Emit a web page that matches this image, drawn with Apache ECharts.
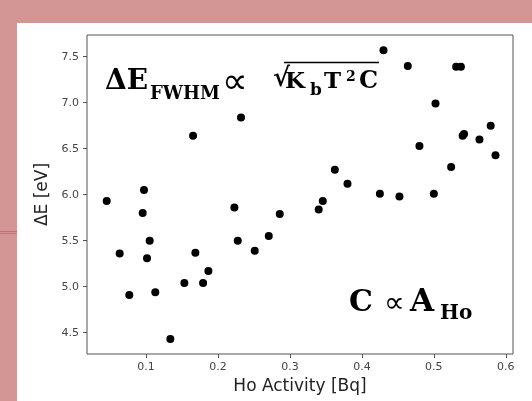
<!DOCTYPE html>
<html>
<head>
<meta charset="utf-8">
<script src="https://cdn.jsdelivr.net/npm/echarts@6/dist/echarts.min.js"></script>
<style>
  html, body { margin: 0; padding: 0; }
  body { width: 532px; height: 401px; background: #d49595; position: relative; overflow: hidden; }
  .panel { position: absolute; left: 17px; top: 23px; width: 515px; height: 378px; background: #fff; }
  .rule { position: absolute; left: 0; width: 17px; height: 1px; background: #c2707a; }
  #chart { position: absolute; left: 0; top: 0; width: 532px; height: 401px; }
</style>
</head>
<body>
<div class="panel"></div>
<div class="rule" style="top:231px"></div>
<div class="rule" style="top:233px"></div>
<div id="chart"></div>
<script>
const activity = [0.0454, 0.0634, 0.0768, 0.0954, 0.0972, 0.1014, 0.1051, 0.1129, 0.1338, 0.1533,
  0.1654, 0.1686, 0.1793, 0.1867, 0.2228, 0.2275, 0.232, 0.2511, 0.2706, 0.2859,
  0.340, 0.3457, 0.3624, 0.380, 0.425, 0.430, 0.4522, 0.4638, 0.480, 0.500,
  0.5023, 0.524, 0.531, 0.5376, 0.540, 0.542, 0.5634, 0.579, 0.5857];
const deltaE = [5.93, 5.36, 4.91, 5.80, 6.05, 5.31, 5.50, 4.94, 4.43, 5.04,
  6.64, 5.37, 5.04, 5.17, 5.86, 5.50, 6.84, 5.39, 5.55, 5.79,
  5.84, 5.93, 6.27, 6.12, 6.01, 7.57, 5.98, 7.40, 6.53, 6.01,
  6.99, 6.30, 7.39, 7.39, 6.64, 6.66, 6.60, 6.75, 6.43];

const xTicks = [0.1, 0.2, 0.3, 0.4, 0.5, 0.6];
const yTicks = [4.5, 5.0, 5.5, 6.0, 6.5, 7.0, 7.5];

const serif = '"DejaVu Serif", serif';
const sans = '"DejaVu Sans", sans-serif';

function txt(x, y, text, size, font) {
  return {
    type: 'text', x: x, y: y, z: 100,
    style: { text: text, font: font || ('bold ' + size + 'px ' + serif), fill: '#000', verticalAlign: 'middle', align: 'left' }
  };
}

const chart = echarts.init(document.getElementById('chart'));
chart.setOption({
  animation: false,
  grid: { left: 87, top: 35, right: 19, bottom: 47, show: true, borderColor: '#555', borderWidth: 1, backgroundColor: 'transparent' },
  xAxis: {
    type: 'value', min: 0.018, max: 0.61,
    name: 'Ho Activity [Bq]', nameLocation: 'middle', nameGap: 23,
    nameTextStyle: { fontFamily: sans, fontSize: 17, color: '#222' },
    splitLine: { show: false },
    axisLine: { show: false },
    axisTick: { show: true, length: 4, lineStyle: { color: '#555' }, customValues: xTicks },
    axisLabel: { fontFamily: sans, fontSize: 11, color: '#444', margin: 8, customValues: xTicks,
      formatter: v => v.toFixed(1) }
  },
  yAxis: {
    type: 'value', min: 4.268, max: 7.736,
    name: 'ΔE [eV]', nameLocation: 'middle', nameGap: 35,
    nameTextStyle: { fontFamily: sans, fontSize: 17, color: '#222' },
    splitLine: { show: false },
    axisLine: { show: false },
    axisTick: { show: true, length: 4, lineStyle: { color: '#555' }, customValues: yTicks },
    axisLabel: { fontFamily: sans, fontSize: 11, color: '#444', margin: 8, customValues: yTicks,
      formatter: v => v.toFixed(1) }
  },
  series: [{
    type: 'scatter',
    symbol: 'circle',
    symbolSize: 8,
    itemStyle: { color: '#000', opacity: 1 },
    data: activity.map((a, i) => [a, deltaE[i]])
  }],
  graphic: [
    txt(105, 82, 'ΔE', 28),
    txt(150, 94, 'FWHM', 18),
    txt(222, 84, '∝', 0, '36px ' + sans),
    txt(273, 79, '√', 26),
    { type: 'line', z: 100, shape: { x1: 284, y1: 62.5, x2: 379, y2: 62.5 }, style: { stroke: '#000', lineWidth: 1.5 } },
    txt(285, 82, 'K', 23),
    txt(310, 91, 'b', 17),
    txt(324, 82, 'T', 23),
    txt(346, 77, '2', 14),
    txt(359, 82, 'C', 24),
    txt(349, 303, 'C', 30),
    txt(384, 304, '∝', 0, '29px ' + sans),
    txt(410, 303, 'A', 31),
    txt(440, 314, 'Ho', 20)
  ]
});
</script>
</body>
</html>
